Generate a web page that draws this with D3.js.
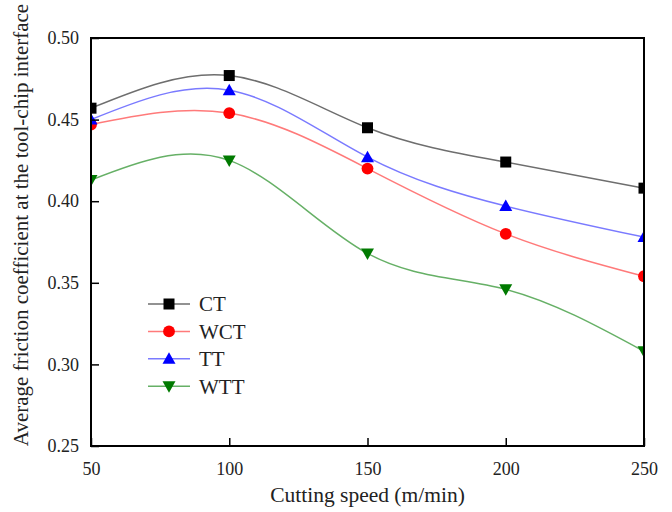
<!DOCTYPE html>
<html>
<head>
<meta charset="utf-8">
<script src="https://cdn.jsdelivr.net/npm/d3@7"></script>
<style>
  html, body { margin: 0; padding: 0; background: #fff; }
  svg { display: block; font-family: "Liberation Serif", "Times New Roman", serif; }
</style>
</head>
<body>
<svg id="chart" width="672" height="512"></svg>
<script>
// Cutting speed (m/min)
const speeds = [50, 100, 150, 200, 250];
// Average friction coefficient per cooling/treatment condition
const ctValues  = [0.457, 0.477, 0.445, 0.424, 0.408];
const wctValues = [0.447, 0.454, 0.420, 0.380, 0.354];
const ttValues  = [0.450, 0.468, 0.427, 0.397, 0.378];
const wttValues = [0.413, 0.425, 0.368, 0.346, 0.308];
const seriesNames = ["CT", "WCT", "TT", "WTT"];
const xTicks = [50, 100, 150, 200, 250];
const yTicks = [0.25, 0.30, 0.35, 0.40, 0.45, 0.50];

const series = [
  { name: seriesNames[0], values: ctValues,  line: "#6e6e6e", fill: "#000000", symbol: "square" },
  { name: seriesNames[1], values: wctValues, line: "#ff7a7a", fill: "#ff0000", symbol: "circle" },
  { name: seriesNames[2], values: ttValues,  line: "#7a7aff", fill: "#0000ff", symbol: "up" },
  { name: seriesNames[3], values: wttValues, line: "#66b066", fill: "#007a00", symbol: "down" }
];

const svg = d3.select("#chart");
const m = { left: 91, right: 644, top: 38, bottom: 446 };

const x = d3.scaleLinear().domain([50, 250]).range([m.left, m.right]);
const y = d3.scaleLinear().domain([0.25, 0.50]).range([m.bottom, m.top]);

svg.append("defs").append("clipPath").attr("id", "plotClip")
  .append("rect")
  .attr("x", m.left).attr("y", m.top)
  .attr("width", m.right - m.left).attr("height", m.bottom - m.top);

// marker shapes
function markerPath(sym) {
  switch (sym) {
    case "square": return "M-5.5,-5.5H5.5V5.5H-5.5Z";
    case "circle": return d3.symbol(d3.symbolCircle, 110)();
    case "up":     return "M0,-6.5L6.5,5L-6.5,5Z";
    case "down":   return "M0,6.5L6.5,-5L-6.5,-5Z";
  }
}

const plot = svg.append("g").attr("clip-path", "url(#plotClip)");

const line = d3.line()
  .x((d, i) => x(speeds[i]))
  .y(d => y(d))
  .curve(d3.curveNatural);

series.forEach(s => {
  plot.append("path")
    .attr("d", line(s.values))
    .attr("fill", "none")
    .attr("stroke", s.line)
    .attr("stroke-width", 1.5);
});

series.forEach(s => {
  plot.selectAll(null)
    .data(s.values)
    .enter().append("path")
    .attr("d", markerPath(s.symbol))
    .attr("transform", (d, i) => `translate(${x(speeds[i])},${y(d)})`)
    .attr("fill", s.fill);
});

// axes with inward ticks
const tickFont = 18;
const xAxis = svg.append("g").attr("transform", `translate(0,${m.bottom})`)
  .call(d3.axisBottom(x).tickValues(xTicks).tickSize(-8).tickPadding(12).tickFormat(d3.format("d")));
const yAxis = svg.append("g").attr("transform", `translate(${m.left},0)`)
  .call(d3.axisLeft(y).tickValues(yTicks).tickSize(-8).tickPadding(12).tickFormat(d3.format(".2f")));

[xAxis, yAxis].forEach(a => {
  a.select(".domain").remove();
  a.selectAll(".tick line").attr("stroke", "#000").attr("stroke-width", 1.5);
  a.selectAll(".tick text")
    .attr("font-family", "Liberation Serif, serif")
    .attr("font-size", tickFont)
    .attr("fill", "#222");
});
xAxis.selectAll(".tick text").attr("dy", "0.95em");

// frame
svg.append("rect")
  .attr("x", m.left).attr("y", m.top)
  .attr("width", m.right - m.left).attr("height", m.bottom - m.top)
  .attr("fill", "none").attr("stroke", "#000").attr("stroke-width", 2);

// axis titles
svg.append("text")
  .attr("x", (m.left + m.right) / 2).attr("y", 502)
  .attr("text-anchor", "middle")
  .attr("font-size", 21.5).attr("fill", "#222")
  .text("Cutting speed (m/min)");

svg.append("text")
  .attr("transform", `translate(28,${(m.top + m.bottom) / 2 - 17}) rotate(-90)`)
  .attr("text-anchor", "middle")
  .attr("font-size", 21).attr("fill", "#222")
  .text("Average friction coefficient at the tool-chip interface");

// legend
const legend = svg.append("g");
series.forEach((s, i) => {
  const ly = 304 + i * 27.4;
  legend.append("line")
    .attr("x1", 148).attr("x2", 190).attr("y1", ly).attr("y2", ly)
    .attr("stroke", s.line).attr("stroke-width", 1.5);
  legend.append("path")
    .attr("d", markerPath(s.symbol))
    .attr("transform", `translate(169,${ly})`)
    .attr("fill", s.fill);
  legend.append("text")
    .attr("x", 199).attr("y", ly).attr("dy", "0.35em")
    .attr("font-size", 21).attr("fill", "#222")
    .text(s.name);
});
</script>
</body>
</html>
